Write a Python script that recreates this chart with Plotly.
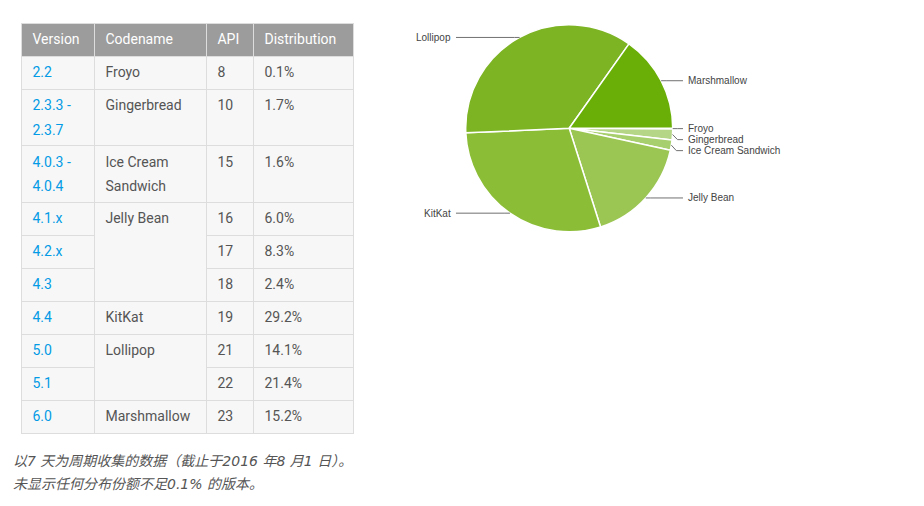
import plotly.graph_objects as go
import math

W, H = 924, 506

# ---------------- data ----------------
versions = ["2.2", "2.3.3 -|2.3.7", "4.0.3 -|4.0.4", "4.1.x", "4.2.x", "4.3", "4.4", "5.0", "5.1", "6.0"]
codenames = ["Froyo", "Gingerbread", "Ice Cream Sandwich", "Jelly Bean", "Jelly Bean", "Jelly Bean",
             "KitKat", "Lollipop", "Lollipop", "Marshmallow"]
codename_display = ["Froyo", "Gingerbread", "Ice Cream|Sandwich", "Jelly Bean", "", "",
                    "KitKat", "Lollipop", "", "Marshmallow"]
api_levels = [8, 10, 15, 16, 17, 18, 19, 21, 22, 23]
distribution = [0.1, 1.7, 1.6, 6.0, 8.3, 2.4, 29.2, 14.1, 21.4, 15.2]
headers = ["Version", "Codename", "API", "Distribution"]

pie_labels = ["Froyo", "Gingerbread", "Ice Cream Sandwich", "Jelly Bean", "KitKat", "Lollipop", "Marshmallow"]
pie_colors = ["#c5e1a5", "#b4d686", "#a8cf6d", "#9bc654", "#8bbd37", "#7cb424", "#6aaf08"]

caption_lines = ["以7 天为周期收集的数据（截止于2016 年8 月1 日）。",
                 "未显示任何分布份额不足0.1% 的版本。"]

# aggregate distribution per codename
pie_values = [round(sum(d for c, d in zip(codenames, distribution) if c == name), 1) for name in pie_labels]

# ---------------- helpers ----------------
def px(x):
    return x / W

def py(y):
    return 1 - y / H

FONT = "Roboto, Noto Sans, Arial"
FS = 14
OUTER_FS = 24.6 / 1.3   # outer size -> ~24px line spacing, visible text set back to 14px
NB = "\u00a0"
TEXT_C = "#555555"
LINK_C = "#039be5"


def fmt(txt, color):
    if not txt:
        return ""
    parts = txt.replace(" ", NB).split("|")
    return "<br>".join('<a href=""style="font-size:%dpx;color:%s">%s%s</a>' % (FS, color, NB, p)
                       for p in parts)


FILL = "#f7f7f7"
BORDER = "#dddddd"

col_version = [fmt(v, LINK_C) for v in versions]
col_code = [fmt(c, TEXT_C) for c in codename_display]
col_api = [fmt(str(a), TEXT_C) for a in api_levels]
col_dist = [fmt("%.1f%%" % d, TEXT_C) for d in distribution]

# codename cells that continue a merged cell get an invisible border
code_line = [FILL if (i > 0 and codenames[i] == codenames[i - 1]) else BORDER for i in range(len(codenames))]
n = len(versions)

fig = go.Figure()

# data order: codename first so that its (partly hidden) borders are drawn underneath
fig.add_trace(go.Table(
    domain=dict(x=[px(21), px(353)], y=[0, py(23)]),
    columnorder=[1, 0, 2, 3],
    columnwidth=[112, 73, 47, 100],
    header=dict(
        values=[fmt(headers[1], "#ffffff"), fmt(headers[0], "#ffffff"),
                fmt(headers[2], "#ffffff"), fmt(headers[3], "#ffffff")],
        fill_color="#9c9c9c",
        line_color=BORDER,
        line_width=1,
        align="left",
        height=33,
        font=dict(family=FONT, size=OUTER_FS, color="white"),
    ),
    cells=dict(
        values=[col_code, col_version, col_api, col_dist],
        fill_color=FILL,
        line=dict(color=[code_line, [BORDER] * n, [BORDER] * n, [BORDER] * n], width=1),
        align="left",
        height=33,
        font=dict(family=FONT, size=OUTER_FS,
                  color=[TEXT_C, LINK_C, TEXT_C, TEXT_C]),
    ),
))

# ---------------- pie ----------------
pie_x0, pie_x1 = 465.7, 672.7
pie_y0, pie_y1 = 24.8, 231.8
fig.add_trace(go.Pie(
    labels=pie_labels,
    values=pie_values,
    sort=False,
    direction="clockwise",
    rotation=90,
    marker=dict(colors=pie_colors, line=dict(color="white", width=1.5)),
    textinfo="none",
    hoverinfo="label+percent",
    domain=dict(x=[px(pie_x0), px(pie_x1)], y=[py(pie_y1), py(pie_y0)]),
    showlegend=False,
))

# outside labels with leader lines (computed from slice angles)
cx, cy = (pie_x0 + pie_x1) / 2, (pie_y0 + pie_y1) / 2
r = (pie_x1 - pie_x0) / 2
total = sum(pie_values)
cum = 0
items = []
for lab, v in zip(pie_labels, pie_values):
    mid = (cum + v / 2) / total * 2 * math.pi
    cum += v
    ex, ey = cx + r * math.cos(mid), cy + r * math.sin(mid)
    items.append(dict(label=lab, ex=ex, ey=ey, side=1 if math.cos(mid) >= 0 else -1))

for side in (1, -1):
    grp = sorted([it for it in items if it["side"] == side], key=lambda it: it["ey"])
    last = -1e9
    for it in grp:
        it["ly"] = max(it["ey"], last + 11)
        last = it["ly"]

shapes = []
annotations = []
for it in items:
    s = it["side"]
    lx = 686 if s == 1 else 453
    elbow_x = it["ex"] + s * 5
    path = "M %f %f L %f %f L %f %f" % (px(it["ex"]), py(it["ey"]), px(elbow_x), py(it["ly"]),
                                         px(lx - s * 3), py(it["ly"]))
    shapes.append(dict(type="path", xref="paper", yref="paper", path=path,
                       line=dict(color="#707070", width=1)))
    annotations.append(dict(x=px(lx), y=py(it["ly"]), xref="paper", yref="paper",
                            text=it["label"], showarrow=False,
                            xanchor="left" if s == 1 else "right", yanchor="middle",
                            font=dict(family="Arial, Liberation Sans", size=10, color="#444444")))

for i, line in enumerate(caption_lines):
    annotations.append(dict(x=px(11), y=py(461 + 23 * i), xref="paper", yref="paper",
                            text=line, showarrow=False, xanchor="left", yanchor="middle",
                            font=dict(family="DejaVu Sans, Noto Sans CJK SC", size=14, color="#555555",
                                      style="italic")))

fig.update_layout(
    width=W, height=H,
    margin=dict(l=0, r=0, t=0, b=0),
    paper_bgcolor="white",
    plot_bgcolor="white",
    shapes=shapes,
    annotations=annotations,
)

fig.write_html("out.html")
